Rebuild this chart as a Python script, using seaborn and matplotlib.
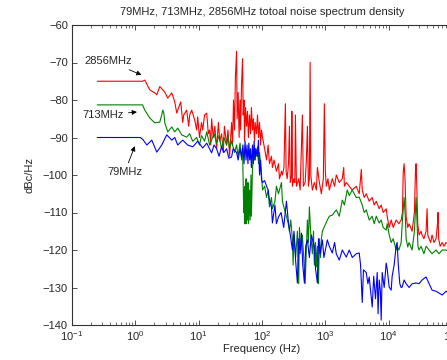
import numpy as np
import pandas as pd
import matplotlib
matplotlib.use("Agg")
import matplotlib.pyplot as plt
import seaborn as sns

# ---------------- data ----------------
red_f = [0.25, 1.3, 1.41, 1.69, 2.03, 2.18, 2.43, 2.92, 3.25, 3.76, 4.19, 4.51, 4.67, 5.21, 5.60,
         5.81, 6.47, 6.96, 7.21, 7.76, 8.65, 9.31, 9.65, 10.3, 11.1, 11.6, 12.4, 13.4, 14.2, 14.9,
         15.5, 16.0, 17.0, 18.0, 19.2, 20.5, 21.5, 23.0, 24.5, 25.5, 27.6, 29, 30.8, 32, 33.1,
         34.3, 35.5, 36.9, 38, 39.7, 40.5, 42, 43.5, 45, 46, 47.5, 49.3, 50.5, 52, 53, 55, 57, 59,
         61, 63.5, 66, 68, 70.8, 73, 76.2, 78, 81.9, 84.9, 88, 91.4, 95, 98.2, 102,
         110, 118, 125, 131, 141, 146, 155, 169, 182, 189, 203, 210, 222, 234, 240, 250, 262, 271,
         280, 293, 296, 302, 318, 330, 337, 350, 380, 400, 434, 450, 480, 502, 521, 540, 560, 575,
         590, 624, 671, 722, 750, 805, 866, 930, 965, 1000, 1037, 1100, 1156, 1288, 1400, 1489,
         1660, 1852, 1950, 2000, 2142, 2387, 2663, 3076, 3430, 3700, 3826, 4114, 4424, 4933, 5500,
         5915, 6360, 7092, 7620, 8200, 9140, 9470, 10190, 10960, 11800, 13120, 14500, 15740, 16500,
         17000, 17540, 18100, 18870, 20000, 21030, 23440, 25500, 26500, 27100, 27800, 28800, 30200,
         32500, 33700, 36000, 39000, 40400, 41500, 43500, 46000, 48400, 52000, 56000, 59000, 60200,
         61500, 65000, 70000, 75000, 80500, 100000]
red_v = [-75, -75, -74.7, -77.3, -78.1, -78.6, -76.4, -77.9, -79.5, -78.1, -80.5, -83.5, -82.7, -80.5, -86,
         -84, -82.7, -87, -84, -82.7, -85.3, -88, -84.5, -90, -86, -88, -84, -83.5, -89, -88,
         -92, -85, -90, -87, -93, -86, -91, -89, -94, -87, -92, -88, -95, -90, -86,
         -92, -80, -88, -74, -67, -85, -78, -90, -80, -88, -76, -69, -84, -80, -91, -82, -87, -83,
         -90, -84, -89, -82, -88, -85, -91, -86, -89, -84, -90, -86, -92, -88, -90,
         -93, -96, -92, -97, -95, -98, -96, -99, -97, -101, -99, -100, -98, -81, -99, -101, -97, -87,
         -102, -100, -83, -103, -101, -102, -84, -103, -101, -104, -84, -103, -102, -96, -87, -103, -101, -70,
         -100, -104, -102, -104, -98, -102, -105, -101, -81, -99, -103, -101, -104, -101, -103, -100,
         -102, -101, -98, -103, -102, -103, -104, -103, -105, -98.5, -104, -106, -105, -107, -106,
         -108, -107, -109, -108, -110, -109, -111, -114, -112, -114, -112, -113, -112, -110,
         -99, -97, -101, -111, -114, -113, -115, -110, -99, -97, -103, -113, -116,
         -115, -116, -117, -115, -109, -116, -117, -118, -116, -118, -117, -113, -110,
         -117, -119, -118, -119, -118, -119]

green_f = [0.25, 1.3, 1.41, 1.69, 2.03, 2.43, 2.61, 2.71, 2.82, 2.92, 3.25, 3.76, 4.19, 4.67, 5.40,
           6.47, 7.21, 8.05, 9.31, 10.3, 11.1, 12.4, 13.4, 14.9, 16.0, 17.5, 19.2, 21, 23.0, 25,
           27.6, 29, 30.8, 33, 36.9, 39.7, 42, 45, 47.5, 49.3, 50.5, 51.5, 52, 53, 54, 55, 56, 57,
           58, 59, 60, 61.5, 63.5, 65, 67, 68, 70.8, 73, 76.2, 79, 81.9, 84.9, 88, 91.4, 98.2,
           102, 110, 118, 125, 131, 141, 146, 160, 169, 182, 189, 203, 210, 225, 243, 260, 271,
           285, 302, 310, 320, 340, 362, 380, 390, 410, 434, 467, 480, 502, 521, 540, 560, 590,
           624, 650, 671, 700, 722, 750, 780, 805, 840, 866, 898, 965, 1075, 1156, 1288, 1489,
           1660, 1852, 2000, 2220, 2387, 2663, 3076, 3430, 3826, 4114, 4424, 4933, 5500, 5915,
           6360, 7092, 7620, 8200, 9140, 9470, 10190, 10960, 11800, 13120, 13610, 14500, 15740,
           16500, 17540, 18300, 18870, 20000, 21030, 23440, 25500, 27100, 28000, 29000, 30200,
           32500, 36000, 39000, 43500, 48400, 56000, 62400, 70000, 80500, 100000]
green_v = [-81.3, -81.3, -82.7, -84.8, -86.1, -85.9, -84, -82.7, -83.5, -86.1, -88.5, -87.2, -88.5, -87.5, -89.3,
           -89.9, -89, -91, -90, -92, -89.5, -91, -88.5, -92, -90.7, -89, -91.5, -89.5, -93, -90,
           -92, -89.5, -93, -91, -94, -92, -95, -91.5, -96, -93, -102, -110, -104, -113, -103, -113, -101, -113,
           -105, -112, -102, -113, -104, -112, -100, -111, -98, -95, -96, -93, -95, -92.5, -97, -94, -100,
           -104, -103, -106, -104, -108.5, -106, -109, -107, -103, -105, -104, -102, -107, -109, -111, -113, -115,
           -112, -117, -124, -116, -122, -115, -129, -114, -120, -116, -125, -129, -120, -112, -118, -108.5, -116,
           -121, -115, -124, -118, -124.5, -119, -129, -117, -122, -117, -115, -113.8, -112, -111, -110.7, -109.3,
           -111, -106.7, -108, -104, -105.5, -104, -106, -105.9, -108, -110, -109.3, -112, -111, -113,
           -111, -112.8, -112, -114, -114.7, -113, -116, -118, -117, -120, -119, -120, -118,
           -112, -106, -111, -117, -119.2, -118, -120, -115, -106, -112, -119, -120,
           -119, -121, -119, -120, -121, -120, -121, -120, -120, -121]

blue_f = [0.25, 1.2, 1.31, 1.52, 1.82, 2.18, 2.61, 3.13, 3.76, 4.19, 4.67, 5.60, 6.71, 8.05, 9.65,
          11.6, 13.4, 16.0, 17.5, 19.2, 21, 23.0, 25, 27.6, 30, 33.1, 35, 39.7, 42, 45, 47.5, 50,
          52, 54, 56, 58, 60, 62, 64, 66, 68, 70.8, 73, 75, 78, 80, 84.9, 88, 91.4, 95, 98.2,
          102, 110, 118, 125, 131, 141, 146, 160, 169, 182, 200, 220, 243, 262, 280, 302, 320,
          340, 362, 380, 400, 419, 440, 467, 490, 521, 560, 600, 671, 700, 749, 780, 830, 898,
          950, 1075, 1156, 1288, 1400, 1489, 1660, 1852, 2142, 2387, 2663, 3076, 3430, 3600, 3826,
          4000, 4424, 4700, 4933, 5200, 5500, 5800, 6200, 6592, 6800, 7092, 7400, 7620, 7900, 8500,
          9140, 9470, 10190, 10960, 11350, 12200, 13120, 13610, 14200, 15000, 15740, 16320, 17540,
          18870, 21030, 23440, 27100, 30200, 33700, 39000, 43500, 48400, 56000, 62400, 70000,
          80500, 100000]
blue_v = [-90, -90, -90.5, -92, -90.7, -93.9, -92, -89.3, -90.7, -90, -92, -90.7, -92, -92.5, -91,
          -92.8, -91.5, -94.1, -92, -93, -95, -92.5, -94, -93, -95.5, -95.2, -93, -94, -96, -93, -95.2, -92,
          -97, -91, -96, -92, -97, -91.5, -96, -93, -98, -92, -97, -91, -96, -93, -95, -90.7, -100, -96, -101.3,
          -102, -101.5, -103, -104, -106.7, -108.5, -112.8, -108, -113, -111.2, -110, -114, -107, -112.8, -116, -120, -115,
          -123, -128.8, -117, -121, -115.5, -124, -128.8, -119, -117.3, -122, -116, -119, -125, -128.8, -117, -121, -117.3,
          -122, -117.3, -119, -120.8, -118, -121, -122.7, -120, -121.9, -120, -122, -121, -120.8, -124, -134,
          -125.3, -126, -129, -127.2, -131, -135.2, -127, -133, -126, -137, -128, -131, -138.7, -126, -130,
          -123.5, -125, -129.9, -130.7, -127, -124, -119, -118, -124, -129, -130, -129.9, -128,
          -129, -130, -129, -128.8, -129, -128, -127.2, -129, -130.7, -131, -131.5, -132,
          -131, -132]

series_names = ["2856MHz", "713MHz", "79MHz"]
series_colors = ["#ff0000", "#008000", "#0000ff"]
y_ticks = [-140, -130, -120, -110, -100, -90, -80, -70, -60]
title_text = "79MHz, 713MHz, 2856MHz totoal noise spectrum density"

# ---------------- styling ----------------
sns.set_theme(style="ticks")
plt.rcParams["font.family"] = ["Liberation Sans", "DejaVu Sans"]
plt.rcParams["mathtext.fontset"] = "custom"
plt.rcParams["mathtext.rm"] = "Liberation Sans"
plt.rcParams["mathtext.it"] = "Liberation Sans:italic"
plt.rcParams["mathtext.bf"] = "Liberation Sans:bold"
plt.rcParams["xtick.direction"] = "in"
plt.rcParams["ytick.direction"] = "in"

fig = plt.figure(figsize=(4.47, 3.60), dpi=100)
ax = fig.add_axes([72 / 447, 35 / 360, 380 / 447, 300 / 360])

for f, v, name, col in [(red_f, red_v, series_names[0], series_colors[0]),
                        (green_f, green_v, series_names[1], series_colors[1]),
                        (blue_f, blue_v, series_names[2], series_colors[2])]:
    df = pd.DataFrame({"f": f, "v": v})
    sns.lineplot(data=df, x="f", y="v", ax=ax, color=col, lw=0.8,
                 estimator=None, sort=False, legend=False)

ax.set_xscale("log")
ax.set_xlim(0.1, 1e5)
ax.set_ylim(-140, -60)
ax.set_yticks(y_ticks)
ax.tick_params(axis="both", which="major", length=3.5, width=0.6, labelsize=8,
               top=True, right=True, color="#333333", pad=3)
ax.tick_params(axis="x", which="minor", length=2, width=0.5, top=True, color="#333333")
for s in ax.spines.values():
    s.set_linewidth(0.8)
    s.set_color("#333333")

ax.set_xlabel("Frequency (Hz)", fontsize=8, labelpad=1)
ax.set_ylabel("dBc/Hz", fontsize=8, labelpad=6)
ax.set_title(title_text, fontsize=8, pad=7)

arrow = dict(arrowstyle="-|>", color="black", lw=0.6, mutation_scale=7,
             shrinkA=1, shrinkB=0)
ax.annotate("2856MHz", xy=(1.25, -73.3), xytext=(0.37, -69.6), fontsize=8,
            ha="center", va="center", arrowprops=arrow)
ax.annotate("713MHz", xy=(1.06, -83.2), xytext=(0.31, -84.0), fontsize=8,
            ha="center", va="center", arrowprops=arrow)
ax.annotate("79MHz", xy=(0.98, -92.3), xytext=(0.68, -99.3), fontsize=8,
            ha="center", va="center", arrowprops=arrow)

fig.savefig("out.png", dpi=100)
